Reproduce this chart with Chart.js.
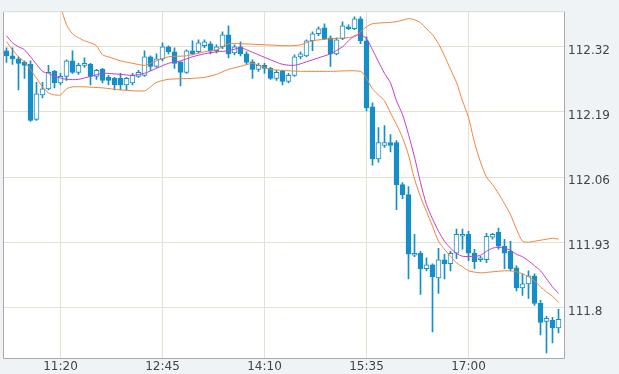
<!DOCTYPE html>
<html>
<head>
<meta charset="utf-8">
<script src="https://cdn.jsdelivr.net/npm/chart.js@4.4.0/dist/chart.umd.min.js"></script>
<style>
html, body { margin: 0; padding: 0; background: #eff3f5; }
#wrap { width: 619px; height: 374px; }
</style>
</head>
<body>
<div id="wrap"><canvas id="mycanvas" width="619" height="374"></canvas></div>
<script>
// 5 minute candles, index 0 = 10:35
var timeLabels = ['11:20', '12:45', '14:10', '15:35', '17:00'];
var timeIdx = [9, 26, 43, 60, 77];
var priceTicks = [111.8, 111.93, 112.06, 112.19, 112.32];
var priceLabels = ['111.8', '111.93', '112.06', '112.19', '112.32'];

var open = [112.312,112.302,112.296,112.289,112.285,112.175,112.224,112.236,112.271,112.248,
	112.261,112.292,112.269,112.283,112.285,112.261,112.275,112.259,112.257,112.257,
	112.244,112.248,112.261,112.263,112.300,112.281,112.296,112.320,112.310,112.290,
	112.269,112.312,112.310,112.322,112.326,112.312,112.320,112.344,112.308,112.320,
	112.306,112.290,112.275,112.283,112.277,112.257,112.271,112.251,112.263,112.300,
	112.302,112.332,112.346,112.358,112.338,112.306,112.336,112.360,112.356,112.376,
	112.332,112.200,112.096,112.123,112.129,112.129,112.045,112.025,111.904,111.908,
	111.877,111.885,111.859,111.895,111.887,111.908,111.942,111.946,111.908,111.895,
	111.895,111.940,111.950,111.922,111.912,111.879,111.839,111.847,111.863,111.808,
	111.772,111.774,111.759];
var high = [112.318,112.318,112.300,112.292,112.292,112.249,112.249,112.283,112.273,112.267,
	112.294,112.312,112.287,112.298,112.287,112.275,112.277,112.263,112.259,112.267,
	112.259,112.267,112.273,112.312,112.302,112.306,112.328,112.322,112.318,112.290,
	112.314,112.332,112.334,112.334,112.330,112.324,112.350,112.362,112.324,112.330,
	112.310,112.294,112.287,112.287,112.279,112.273,112.273,112.267,112.304,112.310,
	112.334,112.350,112.360,112.366,112.342,112.338,112.370,112.364,112.380,112.380,
	112.340,112.208,112.159,112.163,112.145,112.133,112.049,112.041,111.946,111.912,
	111.899,111.887,111.918,111.906,111.912,111.956,111.956,111.952,111.916,111.902,
	111.948,111.948,111.958,111.936,111.932,111.883,111.867,111.873,111.867,111.814,
	111.782,111.780,111.796];
var low = [112.289,112.285,112.234,112.257,112.171,112.173,112.218,112.234,112.238,112.244,
	112.253,112.267,112.265,112.279,112.244,112.255,112.248,112.244,112.234,112.234,
	112.234,112.244,112.259,112.261,112.273,112.279,112.292,112.306,112.277,112.242,
	112.267,112.304,112.308,112.318,112.306,112.308,112.316,112.298,112.304,112.302,
	112.285,112.257,112.271,112.267,112.255,112.253,112.244,112.248,112.261,112.296,
	112.300,112.312,112.342,112.334,112.281,112.304,112.334,112.354,112.354,112.326,
	112.192,112.084,112.090,112.119,112.110,111.995,112.017,111.857,111.901,111.826,
	111.873,111.751,111.828,111.857,111.873,111.897,111.916,111.893,111.877,111.891,
	111.889,111.936,111.916,111.877,111.873,111.833,111.824,111.818,111.804,111.745,
	111.709,111.729,111.749];
var close = [112.302,112.296,112.287,112.283,112.173,112.226,112.236,112.269,112.248,112.261,
	112.292,112.269,112.283,112.287,112.261,112.273,112.253,112.253,112.244,112.244,
	112.257,112.263,112.269,112.300,112.281,112.296,112.320,112.310,112.287,112.269,
	112.312,112.306,112.328,112.330,112.312,112.320,112.344,112.306,112.320,112.306,
	112.289,112.275,112.283,112.277,112.257,112.269,112.251,112.263,112.300,112.306,
	112.332,112.346,112.356,112.336,112.306,112.334,112.362,112.356,112.376,112.332,
	112.198,112.096,112.129,112.129,112.123,112.045,112.025,111.906,111.908,111.877,
	111.885,111.861,111.895,111.887,111.908,111.946,111.946,111.908,111.891,111.899,
	111.942,111.946,111.922,111.908,111.877,111.839,111.847,111.863,111.808,111.770,
	111.778,111.759,111.776];

// bands: [candle index, price]
var upperBand = [[8,112.44],[9,112.401],[10,112.364],[11,112.346],[12,112.338],[13,112.332],[14,112.328],
	[15,112.322],[16,112.304],[17,112.300],[19,112.292],[21,112.287],[23,112.283],[24,112.287],[25,112.292],
	[27,112.300],[30,112.302],[33,112.310],[35,112.314],[37,112.326],[39,112.326],[43,112.324],[47,112.322],
	[49,112.324],[51,112.332],[54,112.336],[58,112.340],[59,112.350],[60,112.360],[61,112.366],[63,112.368],
	[65,112.370],[67,112.376],[68,112.374],[69,112.368],[70,112.356],[71,112.344],[72,112.326],[73,112.302],
	[74,112.275],[75,112.249],[76,112.212],[77,112.179],[78,112.129],[79,112.090],[80,112.060],[81,112.045],
	[82,112.027],[83,112.007],[84,111.985],[85,111.956],[86,111.932],[87,111.930],[88,111.932],[90,111.936],
	[91,111.938],[92,111.936]];
var midBand = [[0,112.342],[1,112.328],[2,112.320],[3,112.314],[4,112.300],[5,112.285],[6,112.271],[7,112.267],
	[8,112.261],[10,112.255],[12,112.255],[14,112.261],[16,112.267],[19,112.265],[21,112.263],[23,112.267],
	[25,112.277],[27,112.287],[29,112.292],[31,112.300],[33,112.306],[35,112.310],[37,112.312],[39,112.318],
	[40,112.314],[42,112.304],[44,112.294],[46,112.285],[48,112.283],[50,112.290],[52,112.298],[54,112.306],
	[56,112.320],[57,112.332],[58,112.342],[59,112.344],[60,112.336],[61,112.314],[62,112.290],[63,112.267],
	[64,112.248],[65,112.212],[66,112.185],[67,112.145],[68,112.100],[69,112.049],[70,112.005],[71,111.977],
	[72,111.952],[73,111.932],[74,111.918],[75,111.908],[76,111.902],[78,111.902],[79,111.904],[80,111.912],
	[81,111.918],[82,111.920],[83,111.918],[84,111.914],[85,111.906],[86,111.901],[87,111.893],[88,111.883],
	[89,111.873],[90,111.857],[91,111.841],[92,111.828]];
var lowerBand = [[0,112.330],[1,112.314],[2,112.300],[3,112.290],[4,112.275],[5,112.257],[6,112.240],[7,112.228],
	[8,112.224],[9,112.224],[10,112.236],[11,112.240],[13,112.240],[16,112.238],[19,112.234],[23,112.232],
	[24,112.240],[25,112.249],[27,112.255],[31,112.257],[33,112.259],[35,112.265],[37,112.275],[39,112.281],
	[41,112.287],[42,112.283],[44,112.275],[46,112.273],[49,112.271],[54,112.271],[59,112.271],[60,112.257],
	[61,112.236],[62,112.224],[63,112.212],[64,112.188],[65,112.165],[66,112.139],[67,112.104],[68,112.056],
	[69,112.021],[70,111.991],[71,111.962],[72,111.932],[73,111.916],[74,111.902],[75,111.889],[76,111.881],
	[77,111.873],[79,111.869],[81,111.871],[83,111.873],[84,111.873],[85,111.871],[86,111.867],[87,111.861],
	[88,111.853],[89,111.841],[90,111.831],[91,111.822],[92,111.810]];

var blue = '#168ec8';
var orange = '#f0843c';
var magenta = '#c83cc8';

var wicks = [], bodies = [];
for (var i in open) {
	wicks.push({x: +i, y: [low[i], high[i]]});
	bodies.push({x: +i, y: [open[i], close[i]]});
}
function pts(band) {
	return band.map(function(p) { return {x: p[0], y: p[1]}; });
}

var plotFrame = {
	id: 'plotFrame',
	beforeDraw: function(chart) {
		var a = chart.chartArea, c = chart.ctx;
		c.save();
		c.fillStyle = '#ffffff';
		c.fillRect(a.left, a.top, a.right - a.left, a.bottom - a.top);
		c.restore();
	},
	afterDraw: function(chart) {
		var a = chart.chartArea, c = chart.ctx;
		c.save();
		c.lineWidth = 1;
		c.strokeStyle = '#d6dadb';
		c.beginPath();
		c.moveTo(a.left, a.top + 0.5);
		c.lineTo(a.right + 1, a.top + 0.5);
		c.stroke();
		c.strokeStyle = '#a8a8a8';
		c.beginPath();
		c.moveTo(a.left + 0.5, a.top + 1);
		c.lineTo(a.left + 0.5, a.bottom + 0.5);
		c.lineTo(a.right + 0.5, a.bottom + 0.5);
		c.lineTo(a.right + 0.5, a.top + 1);
		c.stroke();
		c.restore();
	}
};

Chart.defaults.font.family = 'DejaVu Sans';
Chart.defaults.font.size = 12;
Chart.defaults.color = '#444';

var ctx = document.getElementById('mycanvas');
var chart = new Chart(ctx, {
	type: 'bar',
	data: {
		datasets: [
			{
				type: 'line', label: 'upper', data: pts(upperBand), order: 1,
				borderColor: orange, borderWidth: 1, pointRadius: 0, tension: 0.25, fill: false
			},
			{
				type: 'line', label: 'mid', data: pts(midBand), order: 1,
				borderColor: magenta, borderWidth: 1, pointRadius: 0, tension: 0.25, fill: false
			},
			{
				type: 'line', label: 'lower', data: pts(lowerBand), order: 1,
				borderColor: orange, borderWidth: 1, pointRadius: 0, tension: 0.25, fill: false
			},
			{
				label: 'body', data: bodies, order: 2, grouped: false,
				barPercentage: 1, categoryPercentage: 1, maxBarThickness: 5, minBarLength: 1,
				borderWidth: 1, borderSkipped: false, borderColor: blue,
				backgroundColor: function(c) {
					var k = c.dataIndex;
					return close[k] >= open[k] ? '#ffffff' : blue;
				}
			},
			{
				label: 'wick', data: wicks, order: 3, grouped: false,
				barPercentage: 1, categoryPercentage: 1, maxBarThickness: 1,
				borderWidth: 0, backgroundColor: blue
			}
		]
	},
	options: {
		responsive: false,
		animation: false,
		layout: { padding: { left: 3, top: 7, right: 0, bottom: 0 } },
		plugins: { legend: { display: false }, tooltip: { enabled: false } },
		scales: {
			x: {
				type: 'linear',
				min: -0.5833,
				max: 92.9167,
				offset: false,
				border: { display: false },
				grid: { color: '#e2e2d2', drawTicks: false, offset: false },
				afterBuildTicks: function(axis) {
					axis.ticks = timeIdx.map(function(v) { return {value: v}; });
				},
				afterFit: function(axis) { axis.height = 16; },
				ticks: {
					autoSkip: false, maxRotation: 0, padding: 2,
					callback: function(value) {
						var k = timeIdx.indexOf(value);
						return k >= 0 ? timeLabels[k] : '';
					}
				}
			},
			y: {
				position: 'right',
				min: 111.699,
				max: 112.391,
				border: { display: false },
				grid: { color: '#e2e2d2', drawTicks: false },
				afterBuildTicks: function(axis) {
					axis.ticks = priceTicks.map(function(v) { return {value: v}; });
				},
				afterFit: function(axis) { axis.width = 55; },
				ticks: {
					padding: 4, labelOffset: 4,
					callback: function(value) {
						var k = priceTicks.indexOf(value);
						return k >= 0 ? priceLabels[k] : '';
					}
				}
			}
		}
	},
	plugins: [plotFrame]
});
</script>
</body>
</html>
